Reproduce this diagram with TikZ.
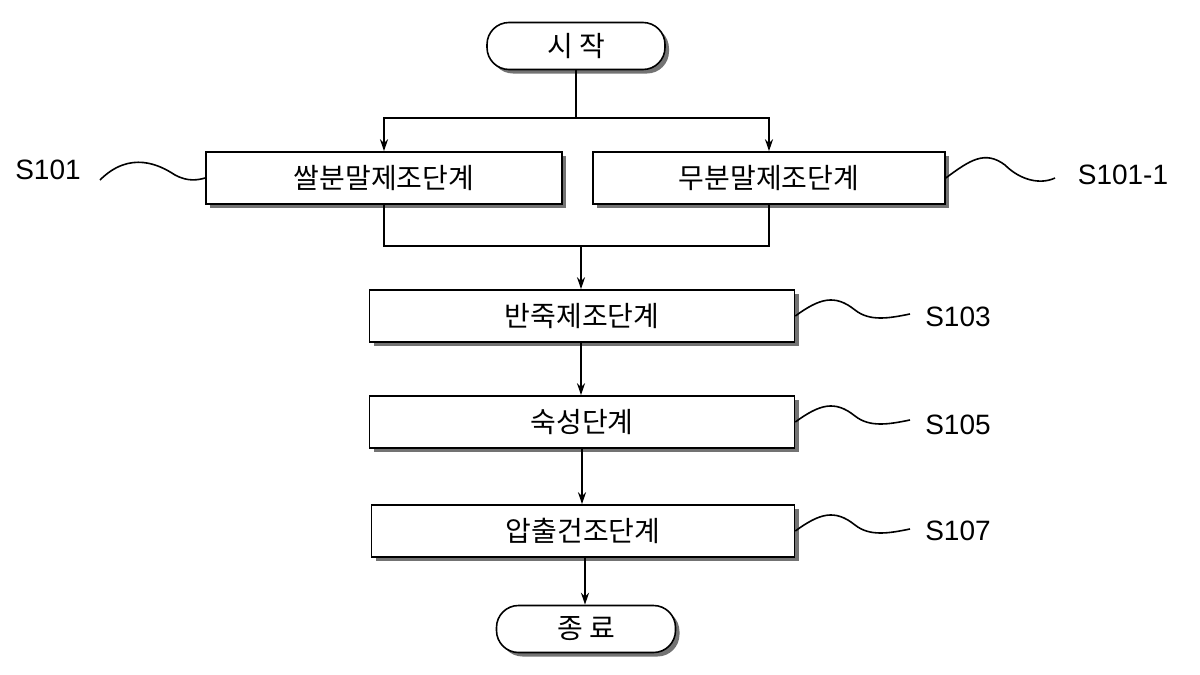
\documentclass[tikz,border=0pt]{standalone}
\usepackage{fontspec}
\setmainfont{Liberation Sans}
\newfontfamily\kr{Noto Sans CJK KR}
\usetikzlibrary{shadows,arrows.meta}
\begin{document}
\begin{tikzpicture}[x=1pt,y=-1pt,line width=1.6pt,
 box/.style={draw,line width=1.6pt,fill=white,minimum height=52pt,font=\kr\fontsize{28}{32}\selectfont,drop shadow={shadow xshift=4pt,shadow yshift=-4pt,fill=black!55,opacity=1}},
 term/.style={box,rounded corners=22pt,minimum height=47pt},
 lab/.style={font=\fontsize{28}{32}\selectfont},
 arr/.style={-{Stealth[length=12pt,width=8pt]}}]
\useasboundingbox (0,0) rectangle (1200,675);
\node[term,minimum width=178pt] (st) at (576,46) {시 작};
\node[box,minimum width=356pt] (a) at (384,178) {쌀분말제조단계};
\node[box,minimum width=352pt] (b) at (769,178) {무분말제조단계};
\node[box,minimum width=425pt] (c) at (582,316) {반죽제조단계};
\node[box,minimum width=425pt] (d) at (582,422) {숙성단계};
\node[box,minimum width=423pt] (e) at (583,531) {압출건조단계};
\node[term,minimum width=179pt] (en) at (586,629) {종 료};
\coordinate (j1) at (576,118);
\coordinate (j2) at (581,246);
\draw (st) -- (j1);
\draw[arr] (j1) -| (a);
\draw[arr] (j1) -| (b);
\draw (a.south) |- (j2) -| (b.south);
\draw[arr] (j2) -- (j2|-c.north);
\draw[arr] (c.south-|581,0) -- (d.north-|581,0);
\draw[arr] (d.south-|582,0) -- (e.north-|582,0);
\draw[arr] (e.south-|585,0) -- (en.north-|585,0);
\node[lab] (l1) at (48,170) {S101};
\node[lab] (l2) at (1123,175) {S101-1};
\node[lab] (l3) at (958,317) {S103};
\node[lab] (l4) at (958,425) {S105};
\node[lab] (l5) at (958,531) {S107};
\draw (100,180) .. controls (130,150) and (160,165) .. (175,175) .. controls (188,182) and (198,180) .. (a.west|-0,178);
\draw (b.east|-0,178) .. controls (970,160) and (985,150) .. (1005,165) .. controls (1020,180) and (1040,185) .. (1055,178);
\foreach \y/\n in {316/c,422/d,531/e}{
\draw (\n.east|-0,\y) .. controls (820,\y-18) and (835,\y-22) .. (855,\y-6) .. controls (870,\y+6) and (890,\y+2) .. (910,\y-2);}
\end{tikzpicture}
\end{document}
